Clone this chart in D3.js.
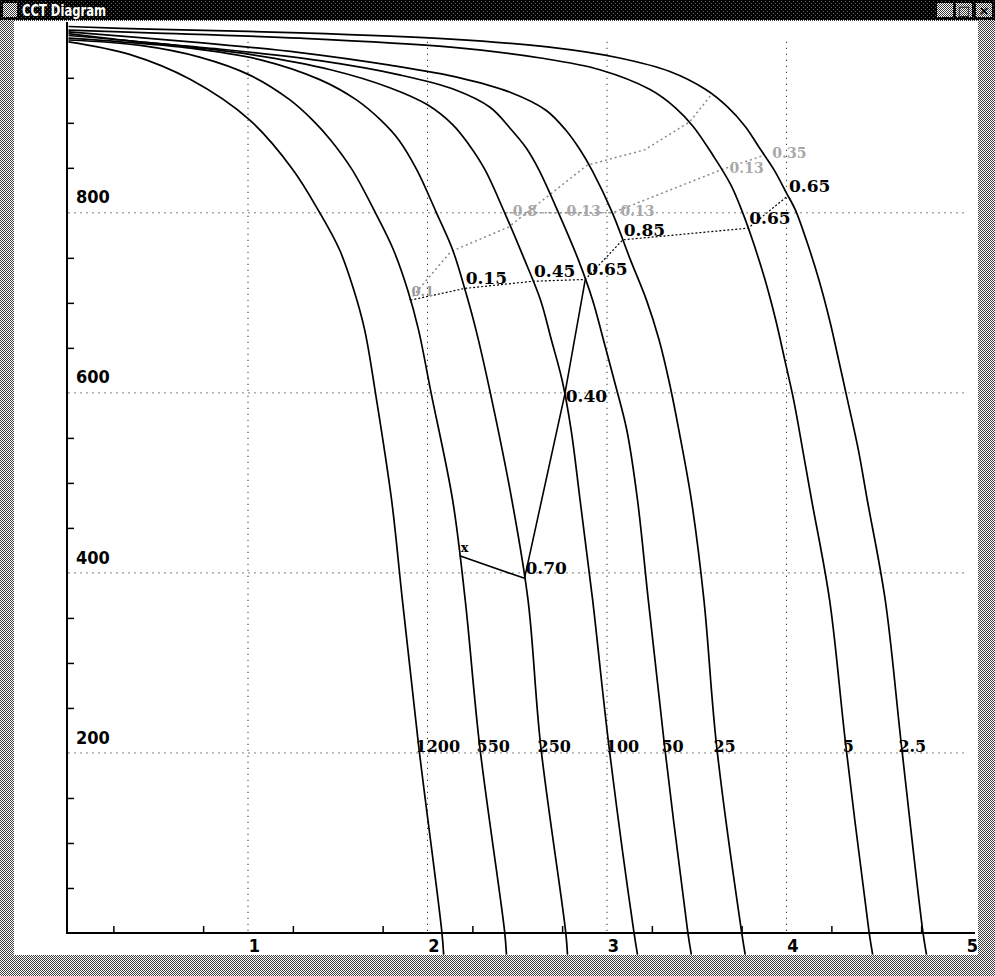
<!DOCTYPE html>
<html>
<head>
<meta charset="utf-8">
<script src="https://cdn.jsdelivr.net/npm/d3@7"></script>
<style>
  html, body { margin: 0; padding: 0; background: #fff; }
  svg { display: block; }
</style>
</head>
<body>
<svg id="win" width="995" height="976"></svg>
<script>
// ---- data -------------------------------------------------------------
// Cooling rates that label each cooling curve
const rates = ["1200", "550", "250", "100", "50", "25", "5", "2.5"];

// Cooling curves as [log10 time, temperature] pairs
const curve1200 = [[0,990],[0.34,976],[0.68,948],[1.01,903],[1.25,848],[1.40,800],[1.51,759],[1.59,714],[1.65,670],[1.71,600],[1.80,481],[1.86,370],[1.95,209],[2.08,1],[2.09,-24]];
const curve550  = [[0,992],[0.40,986],[0.73,973],[1.01,953],[1.23,926],[1.36,903],[1.46,881],[1.58,848],[1.71,800],[1.81,759],[1.89,714],[1.95,670],[2.02,600],[2.14,481],[2.21,370],[2.29,209],[2.43,1],[2.44,-24]];
const curve250  = [[0,994],[0.29,990],[0.68,983],[1.07,970],[1.40,948],[1.60,926],[1.74,903],[1.84,881],[1.94,848],[2.05,800],[2.14,759],[2.21,714],[2.27,670],[2.35,600],[2.47,481],[2.56,370],[2.63,209],[2.77,1],[2.78,-24]];
const curve100  = [[0,997],[0.45,989],[1.01,976],[1.46,959],[1.79,939],[2.00,920],[2.14,898],[2.23,876],[2.32,848],[2.43,800],[2.53,753],[2.63,703],[2.69,659],[2.75,614],[2.80,559],[2.85,481],[2.92,370],[3.01,209],[3.15,1],[3.17,-24]];
const curve50   = [[0,999],[0.34,991],[0.84,982],[1.40,969],[1.85,953],[2.15,937],[2.35,917],[2.46,894],[2.55,872],[2.62,848],[2.73,800],[2.84,748],[2.92,703],[2.98,659],[3.04,614],[3.11,559],[3.17,481],[3.23,370],[3.32,209],[3.45,1],[3.47,-24]];
const curve25   = [[0,1001],[0.68,990],[1.29,978],[1.79,964],[2.18,950],[2.46,934],[2.66,914],[2.77,892],[2.85,870],[2.92,846],[3.03,800],[3.13,748],[3.22,703],[3.29,659],[3.35,609],[3.40,559],[3.47,481],[3.54,370],[3.61,209],[3.75,1],[3.77,-24]];
const curve5    = [[0,1003],[0.45,1000],[1.29,994],[2.13,984],[2.63,972],[2.96,959],[3.24,937],[3.38,917],[3.48,896],[3.59,864],[3.69,831],[3.76,798],[3.81,770],[3.88,726],[3.94,681],[3.99,637],[4.04,592],[4.09,537],[4.14,481],[4.24,370],[4.33,209],[4.46,1],[4.48,-24]];
const curve2_5  = [[0,1007],[0.45,1004],[1.29,1000],[2.13,993],[2.68,984],[3.07,972],[3.35,957],[3.55,937],[3.67,918],[3.77,896],[3.85,872],[3.93,848],[4.00,822],[4.05,803],[4.11,770],[4.18,726],[4.24,681],[4.29,637],[4.34,592],[4.40,537],[4.45,481],[4.55,370],[4.64,209],[4.76,1],[4.78,-24]];
const curves = [curve1200, curve550, curve250, curve100, curve50, curve25, curve5, curve2_5];

// Transformation-start line: curve it sits on and temperature reached
const startOn     = ["550", "250", "100", "50", "25", "5", "2.5"];
const startTemps  = [703, 716, 724, 726, 770, 783, 819];
const startLabels = ["0.1", "0.15", "0.45", "0.65", "0.85", "0.65", "0.65"];

// Solid line through the lower transformation points
const vOn     = ["550", "250", "100", "50"];
const vTemps  = [419, 394, 598, 726];
const vLabels = ["x", "0.70", "0.40", ""];

// Faint (grey) lines and labels
const greyLineA   = [[1.90,703],[2.13,757],[2.45,784],[2.68,820],[2.89,853],[3.21,870],[3.46,901],[3.58,931]];
const greyOnB     = ["100", "50", "25", "5", "2.5"];
const greyTempsB  = [800, 800, 800, 848, 864];
const greyLabelsB = ["0.8", "0.13", "0.13", "0.13", "0.35"];

// Axis ticks
const xTicks = [1, 2, 3, 4, 5];
const xMinor = [0.25, 0.75, 1.25, 1.75, 2.25, 2.75, 3.25, 3.75, 4.25, 4.75];
const yTicks = [200, 400, 600, 800];
const yMinor = [50, 100, 150, 250, 300, 350, 450, 500, 550, 650, 700, 750, 850, 900, 950];

// ---- helpers -----------------------------------------------------------
// log-time at which a curve reaches temperature T (linear between samples)
function vAt(pts, T) {
  for (let i = 1; i < pts.length; i++) {
    const a = pts[i - 1], b = pts[i];
    if ((a[1] - T) * (b[1] - T) <= 0 && a[1] !== b[1]) {
      const f = (a[1] - T) / (a[1] - b[1]);
      return a[0] + f * (b[0] - a[0]);
    }
  }
  return pts[pts.length - 1][0];
}
const curveOf = r => curves[rates.indexOf(r)];
const onCurves = (names, temps) => names.map((r, i) => [vAt(curveOf(r), temps[i]), temps[i]]);

// ---- window frame ------------------------------------------------------
const W = 995, H = 976;
const svg = d3.select("#win");
const defs = svg.append("defs");

const dither = defs.append("pattern").attr("id", "dither")
  .attr("width", 2).attr("height", 2).attr("patternUnits", "userSpaceOnUse");
dither.append("rect").attr("width", 2).attr("height", 2).attr("fill", "#fff");
dither.append("rect").attr("x", 0).attr("y", 0).attr("width", 1).attr("height", 1).attr("fill", "#3a3a3a");
dither.append("rect").attr("x", 1).attr("y", 1).attr("width", 1).attr("height", 1).attr("fill", "#3a3a3a");

const darkDither = defs.append("pattern").attr("id", "darkDither")
  .attr("width", 4).attr("height", 4).attr("patternUnits", "userSpaceOnUse");
darkDither.append("rect").attr("width", 4).attr("height", 4).attr("fill", "#000");
darkDither.append("rect").attr("x", 1).attr("y", 1).attr("width", 1).attr("height", 1).attr("fill", "#666");
darkDither.append("rect").attr("x", 3).attr("y", 3).attr("width", 1).attr("height", 1).attr("fill", "#666");

svg.append("rect").attr("width", W).attr("height", H).attr("fill", "url(#dither)");

// title bar
svg.append("rect").attr("x", 0).attr("y", 0).attr("width", W).attr("height", 20).attr("fill", "url(#darkDither)");
svg.append("rect").attr("x", 3).attr("y", 3).attr("width", 14).attr("height", 14).attr("fill", "url(#dither)");
svg.append("text").attr("x", 22).attr("y", 16)
  .attr("fill", "#fff").attr("font-family", "'DejaVu Sans Condensed', 'DejaVu Sans', sans-serif")
  .attr("font-weight", "bold").attr("font-size", 15)
  .attr("textLength", 84).attr("lengthAdjust", "spacingAndGlyphs").text("CCT Diagram");

const btns = [{x: 937, g: "_"}, {x: 956, g: "□"}, {x: 976, g: "×"}];
btns.forEach(b => {
  svg.append("rect").attr("x", b.x).attr("y", 3).attr("width", 16).attr("height", 14).attr("fill", "url(#dither)");
  svg.append("text").attr("x", b.x + 8).attr("y", 15).attr("text-anchor", "middle")
    .attr("font-family", "'DejaVu Sans', sans-serif").attr("font-weight", "bold")
    .attr("font-size", 13).attr("fill", "#000").text(b.g);
});

// client area
const client = {x: 14, y: 21, w: 964, h: 934};
svg.append("rect").attr("x", client.x).attr("y", client.y)
  .attr("width", client.w).attr("height", client.h).attr("fill", "#fff");
defs.append("clipPath").attr("id", "clientClip").append("rect")
  .attr("x", client.x).attr("y", client.y).attr("width", client.w).attr("height", client.h);

// ---- chart ---------------------------------------------------------------
const x = d3.scaleLinear().domain([0, 5]).range([68.5, 966]);
const y = d3.scaleLinear().domain([0, 1012]).range([933, 22]);

const g = svg.append("g").attr("clip-path", "url(#clientClip)");

const numFont = "'DejaVu Serif', serif";
const axFont = "'DejaVu Sans Condensed', 'DejaVu Sans', sans-serif";

// dotted grid
const grid = g.append("g").attr("stroke", "#000").attr("stroke-width", 1)
  .attr("stroke-dasharray", "1,5");
grid.selectAll("line.gx").data(xTicks.slice(0, 4)).join("line")
  .attr("x1", d => x(d)).attr("x2", d => x(d))
  .attr("y1", y(990)).attr("y2", y(0));
grid.selectAll("line.gy").data(yTicks).join("line")
  .attr("x1", x(0)).attr("x2", x(5))
  .attr("y1", d => y(d)).attr("y2", d => y(d));

// axes
const xAxisY = y(0);
const xAxis = g.append("g").attr("transform", `translate(0,${xAxisY})`)
  .call(d3.axisBottom(x).tickValues(xTicks).tickSize(0).tickPadding(6).tickFormat(d3.format("d")));
xAxis.select(".domain").attr("stroke", "#000").attr("stroke-width", 2)
  .attr("d", `M${x(0) - 2},0H975`);
xAxis.selectAll("text").attr("font-family", axFont).attr("font-weight", "bold")
  .attr("font-size", 18).attr("fill", "#000").attr("dx", 6);

g.append("g").attr("transform", `translate(0,${xAxisY})`)
  .call(d3.axisTop(x).tickValues(xMinor).tickSize(7).tickFormat(""))
  .call(s => s.select(".domain").remove())
  .selectAll("line").attr("stroke", "#000").attr("stroke-width", 1.5);

const yAxis = g.append("g").attr("transform", `translate(${x(0) - 1.5},0)`)
  .call(d3.axisRight(y).tickValues(yTicks).tickSize(0).tickPadding(9).tickFormat(d3.format("d")));
yAxis.select(".domain").attr("stroke", "#000").attr("stroke-width", 2)
  .attr("d", `M0,${y(1012)}V${xAxisY + 1}`);
yAxis.selectAll("text").attr("font-family", axFont).attr("font-weight", "bold")
  .attr("font-size", 18).attr("fill", "#000").attr("dy", "-0.55em");

g.append("g").attr("transform", `translate(${x(0) - 1.5},0)`)
  .call(d3.axisRight(y).tickValues(yMinor).tickSize(7).tickFormat(""))
  .call(s => s.select(".domain").remove())
  .selectAll("line").attr("stroke", "#000").attr("stroke-width", 1.5);

// faint grey lines
const line = d3.line().x(d => x(d[0])).y(d => y(d[1]));
const greyLineB = onCurves(greyOnB, greyTempsB);
[greyLineA, greyLineB].forEach(pts => {
  g.append("path").attr("d", line(pts)).attr("fill", "none")
    .attr("stroke", "#8a8a8a").attr("stroke-width", 1.5).attr("stroke-dasharray", "2,3");
});
g.selectAll("text.greyB").data(greyLineB).join("text")
  .attr("x", d => x(d[0]) + 8).attr("y", d => y(d[1]) + 3)
  .attr("font-family", numFont).attr("font-weight", "bold").attr("font-size", 14)
  .attr("fill", "#a8a8a8").text((d, i) => greyLabelsB[i]);

// cooling curves
const curveLine = d3.line().x(d => x(d[0])).y(d => y(d[1])).curve(d3.curveCatmullRom.alpha(0.5));
g.selectAll("path.cool").data(curves).join("path")
  .attr("d", curveLine).attr("fill", "none").attr("stroke", "#000").attr("stroke-width", 1.7);

// rate labels written where each curve crosses the label level
const labelT = 209;
g.selectAll("text.rate").data(curves).join("text")
  .attr("x", d => x(vAt(d, labelT)) - 3).attr("y", y(labelT) + 7)
  .attr("font-family", numFont).attr("font-weight", "bold").attr("font-size", 16)
  .attr("fill", "#000").text((d, i) => rates[i]);

// transformation-start line (dotted black)
const startLine = onCurves(startOn, startTemps);
g.append("path").attr("d", line(startLine)).attr("fill", "none")
  .attr("stroke", "#000").attr("stroke-width", 1.2).attr("stroke-dasharray", "2,2");
g.selectAll("text.start").data(startLine).join("text")
  .attr("x", d => x(d[0]) + 1).attr("y", d => y(d[1]) - 4)
  .attr("font-family", numFont).attr("font-weight", "bold")
  .attr("font-size", (d, i) => i === 0 ? 13 : 17)
  .attr("fill", (d, i) => i === 0 ? "#9a9a9a" : "#000")
  .text((d, i) => startLabels[i]);

// solid line through the later transformation points
const vLine = onCurves(vOn, vTemps);
g.append("path").attr("d", line(vLine)).attr("fill", "none")
  .attr("stroke", "#000").attr("stroke-width", 1.6);
g.selectAll("text.v").data(vLine).join("text")
  .attr("x", d => x(d[0]) + 1)
  .attr("y", (d, i) => i === 2 ? y(d[1]) + 7 : y(d[1]) - 4)
  .attr("font-family", numFont).attr("font-weight", "bold")
  .attr("font-size", (d, i) => i === 0 ? 13 : 17)
  .attr("fill", "#000").text((d, i) => vLabels[i]);
</script>
</body>
</html>
